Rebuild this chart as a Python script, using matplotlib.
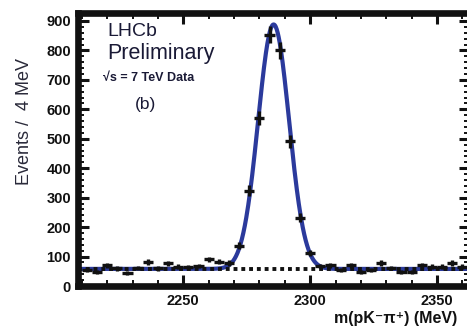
import numpy as np
import matplotlib
matplotlib.use("Agg")
import matplotlib.pyplot as plt
from matplotlib.ticker import MultipleLocator

# ---- data ----
mass = [2212, 2216, 2220, 2224, 2228, 2232, 2236, 2240, 2244, 2248,
        2252, 2256, 2260, 2264, 2268, 2272, 2276, 2280, 2284, 2288,
        2292, 2296, 2300, 2304, 2308, 2312, 2316, 2320, 2324, 2328,
        2332, 2336, 2340, 2344, 2348, 2352, 2356, 2360]
events = [56, 49, 70, 60, 44, 61, 82, 60, 77, 66,
          64, 68, 90, 83, 78, 137, 324, 570, 853, 800,
          491, 231, 112, 68, 71, 54, 71, 49, 54, 78,
          61, 49, 49, 71, 66, 66, 78, 66]
bin_width = 4

# fit model parameters
fit_mean = 2285.6
fit_sigma = 6.1
fit_amp = 830
bkg_level = 58

xticks = [2250, 2300, 2350]
yticks = [0, 100, 200, 300, 400, 500, 600, 700, 800, 900]

# ---- figure ----
fig = plt.figure(figsize=(4.67, 3.30), dpi=100)
ax = fig.add_axes([78 / 467, 1 - 286 / 330, (470 - 78) / 467, (286 - 13) / 330])

xmin, xmax = 2208.5, 2363
ax.set_xlim(xmin, xmax)
ax.set_ylim(0, 927)

xs = np.linspace(xmin, xmax, 800)
model = bkg_level + fit_amp * np.exp(-0.5 * ((xs - fit_mean) / fit_sigma) ** 2)
ax.plot(xs, model, color="#2b3a9c", lw=3.0, zorder=2, solid_capstyle="round")
ax.plot(xs, np.full_like(xs, bkg_level), color="#111111", lw=2.8,
        linestyle=(0, (1.0, 1.0)), zorder=3)

m = np.array(mass)
e = np.array(events, dtype=float)
ax.errorbar(m, e, xerr=bin_width / 2, yerr=np.sqrt(e), fmt="none",
            ecolor="#111111", elinewidth=2.4, capsize=0, zorder=4)

for s in ax.spines.values():
    s.set_linewidth(4.8)
    s.set_color("#111111")

ax.xaxis.set_major_locator(MultipleLocator(50))
ax.xaxis.set_minor_locator(MultipleLocator(10))
ax.yaxis.set_major_locator(MultipleLocator(100))
ax.yaxis.set_minor_locator(MultipleLocator(20))
ax.set_xticks(xticks)
ax.set_yticks(yticks)
ax.tick_params(which="both", direction="in", top=True, right=True, color="#111111")
ax.tick_params(which="major", length=8, width=2.2, pad=6)
ax.tick_params(which="minor", length=4.5, width=1.4)
ax.tick_params(axis="y", which="major", pad=5)
for lab in ax.get_xticklabels() + ax.get_yticklabels():
    lab.set_fontfamily("Liberation Sans")
    lab.set_fontweight("bold")
    lab.set_fontsize(10.5)
    lab.set_color("#111111")

fig.text(25 / 467, 1 - 122 / 330, "Events /  4 MeV", rotation=90,
         ha="center", va="center", fontsize=13, family="Liberation Sans",
         color="#2a2a3a")
fig.text(457 / 467, 1 - 318 / 330, "m(pK\u207b\u03c0\u207a) (MeV)",
         ha="right", va="center", fontsize=11.5, fontweight="bold",
         family=["Liberation Sans", "DejaVu Sans"], color="#111111")

tcol = "#1a1a36"
fig.text(107 / 467, 1 - 36 / 330, "LHCb", ha="left", va="baseline",
         fontsize=14, family="Liberation Sans", color=tcol)
fig.text(107 / 467, 1 - 59 / 330, "Preliminary", ha="left", va="baseline",
         fontsize=15.5, family="Liberation Sans", color=tcol)
fig.text(103 / 467, 1 - 78 / 330, "\u221as = 7 TeV Data", ha="left", va="center",
         fontsize=9, fontweight="bold", family=["Liberation Sans", "DejaVu Sans"],
         color=tcol)
fig.text(145 / 467, 1 - 105 / 330, "(b)", ha="center", va="center",
         fontsize=12.5, family="Liberation Sans", color=tcol)

fig.savefig("out.png", dpi=100)
